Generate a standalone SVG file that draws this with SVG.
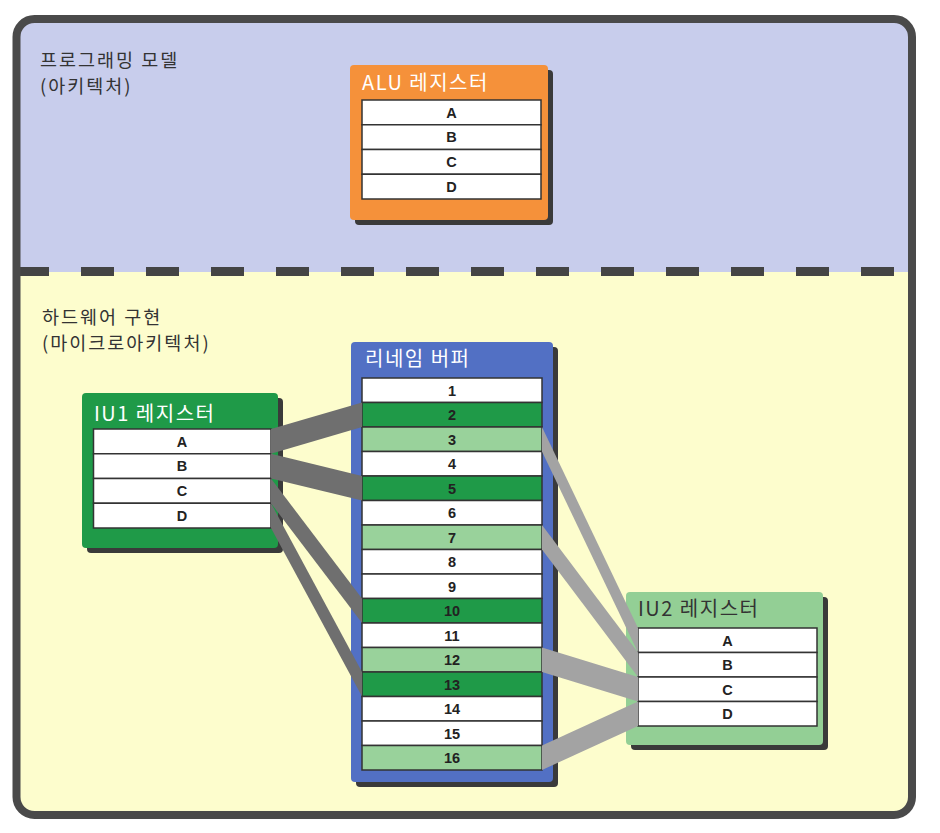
<svg xmlns="http://www.w3.org/2000/svg" width="940" height="833" viewBox="0 0 940 833">
<style>
.lbl{font-family:"Noto Sans CJK KR","Noto Sans",sans-serif;font-size:18.5px;letter-spacing:2px;fill:#333}
.ttl{font-family:"Noto Sans CJK KR","Noto Sans",sans-serif;font-size:20px;letter-spacing:1.5px;fill:#fff}
.ttl-d{fill:#333}
.row{stroke:#333;stroke-width:1.5}
.w{fill:#fff}
.dg{fill:#1f9a48}
.lg{fill:#99d29b}
.rt{font-family:"Liberation Sans",Arial,sans-serif;font-size:14.5px;font-weight:bold;fill:#222;text-anchor:middle}
.shadow{fill:#3a3a3a}
.c1{fill:#6f6f6f}
.c2{fill:#a3a3a3}
</style>
<defs>
<clipPath id="frameClip"><rect x="16.5" y="19" width="895.5" height="796" rx="18"/></clipPath>
</defs>
<g id="background">
<g clip-path="url(#frameClip)">
<rect x="0" y="0" width="940" height="272" fill="#c8cdec"/>
<rect x="0" y="272" width="940" height="561" fill="#fdfdcd"/>
</g>
<line x1="16" y1="271.5" x2="908" y2="271.5" stroke="#444" stroke-width="9" stroke-dasharray="33 32"/>
<rect x="16.5" y="19" width="895.5" height="796" rx="18" fill="none" stroke="#4a4a4a" stroke-width="8"/>
<text class="lbl" x="40" y="67">프로그래밍 모델</text>
<text class="lbl" x="40" y="93">(아키텍처)</text>
<text class="lbl" x="42" y="324">하드웨어 구현</text>
<text class="lbl" x="42" y="350">(마이크로아키텍처)</text>
</g>

<g id="alu">
<rect class="shadow" x="355" y="70" width="198" height="155" rx="4"/>
<rect x="350" y="65" width="198" height="155" rx="4" fill="#f5913a"/>
<text class="ttl" x="362" y="90">ALU 레지스터</text>
<rect class="row w" x="362" y="100" width="179" height="24.75"/>
<rect class="row w" x="362" y="124.75" width="179" height="24.75"/>
<rect class="row w" x="362" y="149.5" width="179" height="24.75"/>
<rect class="row w" x="362" y="174.25" width="179" height="24.75"/>
<text class="rt" x="451.5" y="117.5">A</text>
<text class="rt" x="451.5" y="142.2">B</text>
<text class="rt" x="451.5" y="167">C</text>
<text class="rt" x="451.5" y="191.7">D</text>
</g>

<g id="iu1">
<rect class="shadow" x="87" y="398" width="196" height="155" rx="4"/>
<rect x="82" y="393" width="196" height="155" rx="4" fill="#1f9a48"/>
<text class="ttl" x="94" y="421">IU1 레지스터</text>
<rect class="row w" x="93.5" y="429" width="177.5" height="24.75"/>
<rect class="row w" x="93.5" y="453.75" width="177.5" height="24.75"/>
<rect class="row w" x="93.5" y="478.5" width="177.5" height="24.75"/>
<rect class="row w" x="93.5" y="503.25" width="177.5" height="24.75"/>
<text class="rt" x="182" y="446.5">A</text>
<text class="rt" x="182" y="471.2">B</text>
<text class="rt" x="182" y="496">C</text>
<text class="rt" x="182" y="520.7">D</text>
</g>

<g id="buffer">
<rect class="shadow" x="356" y="347" width="202" height="440" rx="4"/>
<rect x="351" y="342" width="202" height="440" rx="4" fill="#5270c4"/>
<text class="ttl" x="365" y="366">리네임 버퍼</text>
<rect class="row w" x="362" y="378" width="180" height="24.5"/>
<rect class="row dg" x="362" y="402.5" width="180" height="24.5"/>
<rect class="row lg" x="362" y="427" width="180" height="24.5"/>
<rect class="row w" x="362" y="451.5" width="180" height="24.5"/>
<rect class="row dg" x="362" y="476" width="180" height="24.5"/>
<rect class="row w" x="362" y="500.5" width="180" height="24.5"/>
<rect class="row lg" x="362" y="525" width="180" height="24.5"/>
<rect class="row w" x="362" y="549.5" width="180" height="24.5"/>
<rect class="row w" x="362" y="574" width="180" height="24.5"/>
<rect class="row dg" x="362" y="598.5" width="180" height="24.5"/>
<rect class="row w" x="362" y="623" width="180" height="24.5"/>
<rect class="row lg" x="362" y="647.5" width="180" height="24.5"/>
<rect class="row dg" x="362" y="672" width="180" height="24.5"/>
<rect class="row w" x="362" y="696.5" width="180" height="24.5"/>
<rect class="row w" x="362" y="721" width="180" height="24.5"/>
<rect class="row lg" x="362" y="745.5" width="180" height="24.5"/>
<text class="rt" x="452" y="395.5">1</text>
<text class="rt" x="452" y="420">2</text>
<text class="rt" x="452" y="444.5">3</text>
<text class="rt" x="452" y="469">4</text>
<text class="rt" x="452" y="493.5">5</text>
<text class="rt" x="452" y="518">6</text>
<text class="rt" x="452" y="542.5">7</text>
<text class="rt" x="452" y="567">8</text>
<text class="rt" x="452" y="591.5">9</text>
<text class="rt" x="452" y="616">10</text>
<text class="rt" x="452" y="640.5">11</text>
<text class="rt" x="452" y="665">12</text>
<text class="rt" x="452" y="689.5">13</text>
<text class="rt" x="452" y="714">14</text>
<text class="rt" x="452" y="738.5">15</text>
<text class="rt" x="452" y="763">16</text>
</g>

<g id="iu2">
<rect class="shadow" x="631" y="597" width="197" height="153" rx="4"/>
<rect x="626" y="592" width="197" height="153" rx="4" fill="#93cf95"/>
<text class="ttl ttl-d" x="638" y="616">IU2 레지스터</text>
<rect class="row w" x="638" y="628" width="179" height="24.5"/>
<rect class="row w" x="638" y="652.5" width="179" height="24.5"/>
<rect class="row w" x="638" y="677" width="179" height="24.5"/>
<rect class="row w" x="638" y="701.5" width="179" height="24.5"/>
<text class="rt" x="727.5" y="645.5">A</text>
<text class="rt" x="727.5" y="670">B</text>
<text class="rt" x="727.5" y="694.5">C</text>
<text class="rt" x="727.5" y="719">D</text>
</g>

<g id="connectors">
<polygon class="c1" points="271,429 362,402.5 362,427 271,453.75"/>
<polygon class="c1" points="271,453.75 362,476 362,500.5 271,478.5"/>
<polygon class="c1" points="271,478.5 362,598.5 362,623 271,503.25"/>
<polygon class="c1" points="271,503.25 362,672 362,696.5 271,528"/>
<polygon class="c2" points="542,427 638,628 638,652.5 542,451.5"/>
<polygon class="c2" points="542,525 638,652.5 638,677 542,549.5"/>
<polygon class="c2" points="542,647.5 638,677 638,701.5 542,672"/>
<polygon class="c2" points="542,745.5 638,701.5 638,726 542,770"/>
</g>
</svg>
